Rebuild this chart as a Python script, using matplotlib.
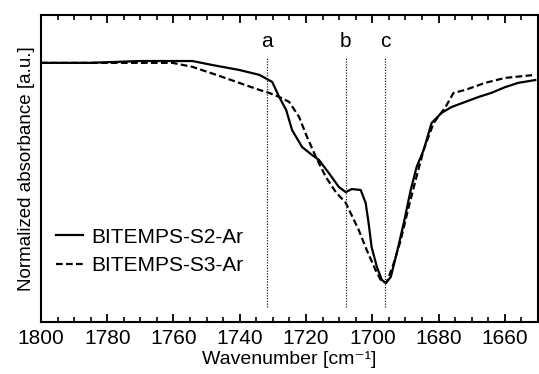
import matplotlib.pyplot as plt
from matplotlib.ticker import MultipleLocator

plt.rcParams['font.family'] = ['Liberation Sans', 'DejaVu Sans']

# BITEMPS-S2-Ar (solid)
wn_s2 = [1800, 1785.3, 1770.2, 1754.3, 1748.3, 1740.2, 1734.1, 1730.2, 1728.1,
         1726.0, 1724.2, 1721.2, 1718.2, 1716.1, 1713.1, 1710.1, 1708.0, 1706.2,
         1703.5, 1702.0, 1701.1, 1700.2, 1698.6, 1697.1, 1695.9, 1694.4, 1692.6,
         1690.5, 1688.4, 1686.6, 1684.5, 1682.1, 1679.1, 1676.1, 1671.9, 1667.9,
         1664.1, 1659.9, 1655.9, 1650.8]
abs_s2 = [0.844, 0.844, 0.850, 0.850, 0.837, 0.821, 0.805, 0.782, 0.733,
          0.691, 0.625, 0.570, 0.544, 0.528, 0.485, 0.440, 0.423, 0.433,
          0.430, 0.388, 0.322, 0.244, 0.179, 0.137, 0.127, 0.147, 0.225,
          0.322, 0.430, 0.505, 0.560, 0.648, 0.681, 0.700, 0.717, 0.733,
          0.746, 0.765, 0.779, 0.788]

# BITEMPS-S3-Ar (dashed)
wn_s3 = [1800, 1790.4, 1775.3, 1760.3, 1754.3, 1747.1, 1740.2, 1734.1, 1731.1,
         1728.1, 1725.1, 1722.1, 1719.7, 1717.0, 1714.0, 1711.0, 1708.0, 1704.1,
         1701.7, 1699.0, 1697.1, 1695.6, 1693.5, 1691.4, 1689.0, 1686.9, 1684.5,
         1681.5, 1677.9, 1675.5, 1671.9, 1665.9, 1659.9, 1650.8]
abs_s3 = [0.844, 0.844, 0.844, 0.844, 0.831, 0.805, 0.779, 0.756, 0.746,
          0.733, 0.717, 0.668, 0.603, 0.537, 0.472, 0.423, 0.388, 0.300,
          0.235, 0.169, 0.130, 0.130, 0.192, 0.267, 0.375, 0.463, 0.560,
          0.648, 0.700, 0.746, 0.756, 0.779, 0.795, 0.805]

# marker positions a, b, c
mark_labels = ['a', 'b', 'c']
mark_pos = [1731.7, 1708.0, 1696.2]

fig = plt.figure(figsize=(5.39, 3.74), dpi=100)
ax = fig.add_axes([0.076, 0.139, 0.922, 0.821])

ax.plot(wn_s2, abs_s2, color='black', lw=1.6, ls='-', label='BITEMPS-S2-Ar')
ax.plot(wn_s3, abs_s3, color='black', lw=1.6, ls=(0, (3, 1.5)), label='BITEMPS-S3-Ar')

for lab, pos in zip(mark_labels, mark_pos):
    ax.plot([pos, pos], [0.049, 0.86], color='#222222', lw=0.9, ls=(0, (1, 1.2)))
    ax.text(pos, 0.915, lab, ha='center', va='center', fontsize=15)

ax.set_xlim(1800, 1650)
ax.set_ylim(0, 1)
ax.xaxis.set_major_locator(MultipleLocator(20))
ax.xaxis.set_minor_locator(MultipleLocator(5))
ax.tick_params(axis='x', which='both', direction='in', top=True, labelsize=15, pad=5)
ax.tick_params(axis='x', which='major', length=6, width=1.3)
ax.tick_params(axis='x', which='minor', length=3.5, width=1.2)
ax.set_yticks([])
for s in ax.spines.values():
    s.set_linewidth(1.5)

ax.set_xlabel('Wavenumber [cm\u207b\u00b9]', fontsize=14, labelpad=2)
ax.set_ylabel('Normalized absorbance [a.u.]', fontsize=13.5, labelpad=4)

ax.legend(loc='upper left', bbox_to_anchor=(0.0, 0.355), frameon=False,
          fontsize=15, handlelength=1.3, handletextpad=0.4, labelspacing=0.45,
          borderaxespad=0.3)

fig.savefig('out.png', dpi=100)
